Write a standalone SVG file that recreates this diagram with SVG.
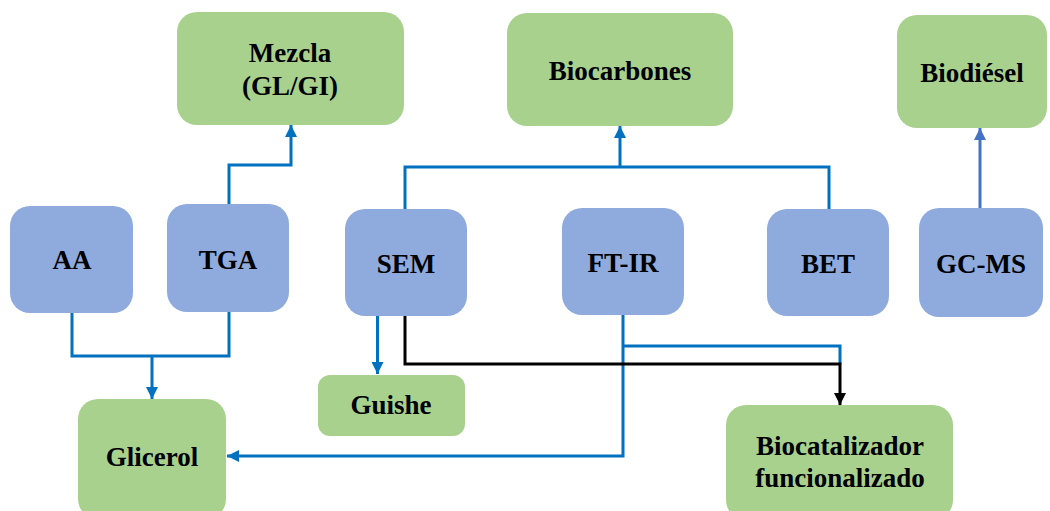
<svg xmlns="http://www.w3.org/2000/svg" width="1050" height="511" viewBox="0 0 1050 511">
<style>
.g{fill:#A9D18E}
.b{fill:#8FAADC}
.t{font-family:'Liberation Serif','Times New Roman','DejaVu Serif',serif;font-weight:700;font-size:27px;fill:#000;text-anchor:middle}
.c{fill:none;stroke:#0070C0;stroke-width:3}
.k{fill:none;stroke:#000;stroke-width:3}
</style>
<defs>
<marker id="ab" viewBox="0 0 10 10" refX="10" refY="5" markerWidth="4" markerHeight="4" orient="auto" markerUnits="strokeWidth"><path d="M0,0L10,5L0,10z" fill="#0070C0"/></marker>
<marker id="ak" viewBox="0 0 10 10" refX="10" refY="5" markerWidth="4" markerHeight="4" orient="auto" markerUnits="strokeWidth"><path d="M0,0L10,5L0,10z" fill="#000"/></marker>
<marker id="ap" viewBox="0 0 10 10" refX="10" refY="5" markerWidth="4" markerHeight="4" orient="auto" markerUnits="strokeWidth"><path d="M0,0L10,5L0,10z" fill="#4472C4"/></marker>
</defs>
<g id="mezcla"><rect class="g" x="177" y="12" width="227" height="113" rx="20"/><text class="t" x="290" y="62">Mezcla</text><text class="t" x="290" y="95">(GL/GI)</text></g>
<g id="biocarbones"><rect class="g" x="507" y="13" width="226" height="113" rx="20"/><text class="t" x="620" y="80">Biocarbones</text></g>
<g id="biodiesel"><rect class="g" x="897" y="15" width="150" height="113" rx="20"/><text class="t" x="972" y="82">Biodiésel</text></g>
<g id="aa"><rect class="b" x="10" y="206" width="123" height="107" rx="20"/><text class="t" x="72" y="269">AA</text></g>
<g id="tga"><rect class="b" x="167" y="204" width="122" height="108" rx="20"/><text class="t" x="228" y="269">TGA</text></g>
<g id="sem"><rect class="b" x="345" y="209" width="122" height="107" rx="20"/><text class="t" x="406" y="273">SEM</text></g>
<g id="ftir"><rect class="b" x="562" y="208" width="122" height="107" rx="20"/><text class="t" x="623" y="272">FT-IR</text></g>
<g id="bet"><rect class="b" x="767" y="209" width="122" height="107" rx="20"/><text class="t" x="828" y="273">BET</text></g>
<g id="gcms"><rect class="b" x="919" y="208" width="124" height="109" rx="20"/><text class="t" x="981" y="273">GC-MS</text></g>
<g id="guishe"><rect class="g" x="318" y="375" width="147" height="61" rx="12"/><text class="t" x="391" y="414">Guishe</text></g>
<g id="glicerol"><rect class="g" x="78" y="399" width="148" height="120" rx="20"/><text class="t" x="152" y="466">Glicerol</text></g>
<g id="biocatalizador"><rect class="g" x="726" y="405" width="227" height="115" rx="20"/><text class="t" x="840" y="455">Biocatalizador</text><text class="t" x="840" y="487">funcionalizado</text></g>
<g id="connectors">
<path class="c" d="M72,313V356H229V312"/>
<path class="c" d="M152,356V399" marker-end="url(#ab)"/>
<path class="c" d="M229,204V165H291V125" marker-end="url(#ab)"/>
<path class="c" d="M405,209V167H829V209"/>
<path class="c" d="M620,167V126" marker-end="url(#ab)"/>
<path class="c" d="M377.5,316V374" marker-end="url(#ab)"/>
<path class="c" d="M623,315V456H227" marker-end="url(#ab)"/>
<path class="c" d="M623,346H840V364"/>
<path class="k" d="M405,316V364H840V405" marker-end="url(#ak)"/>
<path fill="none" stroke="#4472C4" stroke-width="3" d="M980,208V128" marker-end="url(#ap)"/>
</g>
</svg>
